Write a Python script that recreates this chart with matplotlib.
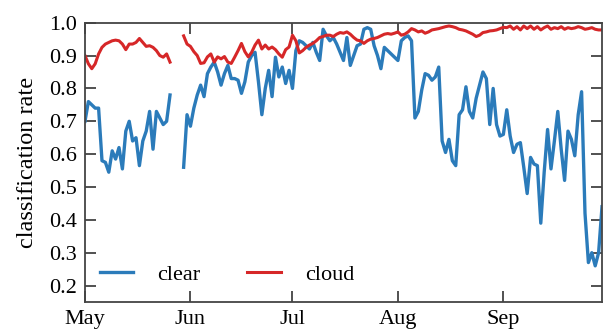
import numpy as np
import pandas as pd
import matplotlib
matplotlib.use("Agg")
import matplotlib.pyplot as plt
import matplotlib.dates as mdates

# daily classification rates, 1 May - 30 Sep (NaN = no data)
clear_may = [0.70, 0.76, 0.75, 0.74, 0.74, 0.58, 0.575, 0.545, 0.61, 0.585,
             0.62, 0.555, 0.67, 0.70, 0.64, 0.65, 0.565, 0.64, 0.67, 0.73,
             0.615, 0.73, 0.71, 0.69, 0.70, 0.78]
clear_rest = [0.56, 0.72, 0.685, 0.74, 0.78, 0.81, 0.775, 0.845, 0.865, 0.88,
              0.85, 0.81, 0.845, 0.87, 0.83, 0.83, 0.825, 0.785, 0.82, 0.88,
              0.90, 0.91, 0.82, 0.72, 0.80, 0.855, 0.775, 0.895, 0.835, 0.865,
              0.815, 0.855, 0.80, 0.915, 0.945, 0.94, 0.93, 0.92, 0.94, 0.91,
              0.885, 0.98, 0.96, 0.945, 0.955, 0.935, 0.91, 0.885, 0.955, 0.87,
              0.90, 0.93, 0.935, 0.98, 0.985, 0.98, 0.93, 0.90, 0.86, 0.925,
              0.915, 0.905, 0.895, 0.885, 0.945, 0.955, 0.96, 0.945, 0.71, 0.73,
              0.795, 0.845, 0.84, 0.825, 0.835, 0.865, 0.64, 0.605, 0.645, 0.58,
              0.565, 0.72, 0.735, 0.805, 0.73, 0.71, 0.77, 0.81, 0.85, 0.83,
              0.69, 0.80, 0.69, 0.655, 0.66, 0.735, 0.655, 0.605, 0.63, 0.635,
              0.56, 0.48, 0.59, 0.57, 0.565, 0.39, 0.545, 0.675, 0.555, 0.64,
              0.73, 0.615, 0.52, 0.67, 0.645, 0.595, 0.72, 0.79, 0.42, 0.27,
              0.30, 0.26, 0.30, 0.44]

cloud_may = [0.90, 0.875, 0.86, 0.875, 0.905, 0.925, 0.935, 0.94, 0.945, 0.947,
             0.945, 0.935, 0.918, 0.935, 0.935, 0.94, 0.952, 0.94, 0.928, 0.93,
             0.925, 0.915, 0.90, 0.895, 0.905, 0.88]
cloud_rest = [0.96, 0.935, 0.928, 0.912, 0.90, 0.876, 0.878, 0.896, 0.905, 0.88,
              0.896, 0.89, 0.897, 0.88, 0.876, 0.895, 0.915, 0.937, 0.912, 0.896,
              0.91, 0.932, 0.947, 0.92, 0.932, 0.92, 0.926, 0.918, 0.905, 0.895,
              0.918, 0.926, 0.962, 0.945, 0.908, 0.915, 0.925, 0.932, 0.937, 0.945,
              0.955, 0.958, 0.962, 0.962, 0.958, 0.965, 0.97, 0.968, 0.972, 0.965,
              0.955, 0.947, 0.945, 0.937, 0.945, 0.95, 0.952, 0.955, 0.96, 0.965,
              0.967, 0.965, 0.968, 0.972, 0.962, 0.965, 0.972, 0.982, 0.978, 0.972,
              0.975, 0.968, 0.972, 0.978, 0.98, 0.982, 0.985, 0.988, 0.99, 0.988,
              0.985, 0.98, 0.978, 0.975, 0.97, 0.965, 0.958, 0.962, 0.97, 0.972,
              0.975, 0.976, 0.978, 0.982, 0.986, 0.985, 0.99, 0.98, 0.988, 0.978,
              0.99, 0.982, 0.99, 0.98, 0.988, 0.978, 0.985, 0.99, 0.98, 0.985,
              0.982, 0.988, 0.98, 0.985, 0.982, 0.984, 0.988, 0.985, 0.98, 0.982,
              0.985, 0.98, 0.978, 0.978]

gap = [np.nan] * 3
clear = clear_may + gap + clear_rest
cloud = cloud_may + gap + cloud_rest
dates = pd.date_range("2014-05-01", periods=len(clear), freq="D")

plt.rcParams["font.family"] = ["Liberation Serif", "DejaVu Serif"]

fig = plt.figure(figsize=(6.04, 3.32), dpi=100)
ax = fig.add_axes([0.1407, 0.0904, 0.856, 0.8412])

ax.plot(dates, clear, color="#2b7bba", lw=2.4, label="clear")
ax.plot(dates, cloud, color="#d62728", lw=2.2, label="cloud")

ax.set_xlim(pd.Timestamp("2014-05-01"), pd.Timestamp("2014-09-30"))
ax.set_ylim(0.15, 1.0)
ax.set_yticks(np.arange(0.2, 1.01, 0.1))
ax.xaxis.set_major_locator(mdates.MonthLocator())
ax.xaxis.set_major_formatter(mdates.DateFormatter("%b"))
ax.tick_params(direction="in", top=True, right=True, length=8, width=1.2,
               color="#333333", labelsize=16, pad=6)
for s in ax.spines.values():
    s.set_color("#444444")
    s.set_linewidth(1.3)

ax.set_ylabel("classification rate", fontsize=17.5, labelpad=8)
ax.legend(loc="lower left", ncol=2, frameon=False, handlelength=1.5,
          handletextpad=1.1, columnspacing=2.1, fontsize=16,
          bbox_to_anchor=(-0.01, -0.01))

fig.savefig("out.png", dpi=100)
